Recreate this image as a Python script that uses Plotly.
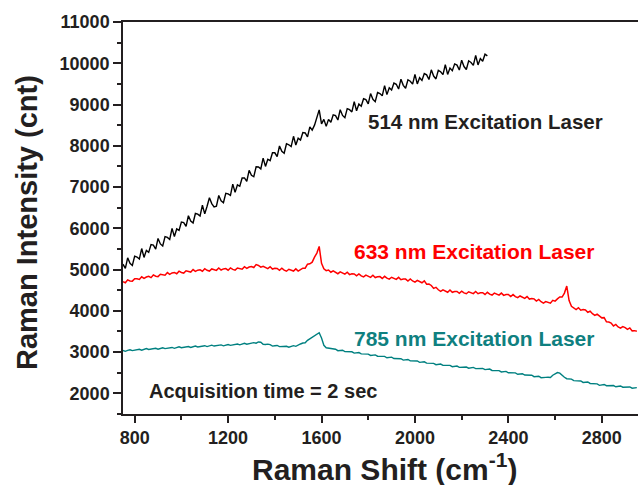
import plotly.graph_objects as go

# Raman shift sample positions (cm^-1), every 10 cm^-1
raman_shift = list(range(750, 2951, 10))

# 514 nm excitation (recorded 750 .. 2310 cm^-1)
int_514 = [
    5130, 5030, 5285, 5150, 5100, 5325, 5305, 5255, 5510, 5295,
    5465, 5418, 5606, 5594, 5497, 5755, 5621, 5572, 5798, 5779,
    5730, 6000, 5800, 5985, 5950, 6150, 6140, 6045, 6305, 6175,
    6130, 6360, 6345, 6300, 6560, 6350, 6535, 6740, 6600, 6520,
    6535, 6795, 6665, 6620, 6850, 6835, 6800, 7070, 6870, 7055,
    7020, 7220, 7220, 7135, 7405, 7285, 7250, 7490, 7485, 7440,
    7700, 7500, 7675, 7640, 7830, 7830, 7735, 7995, 7865, 7820,
    8050, 8025, 7980, 8230, 8020, 8185, 8140, 8320, 8310, 8215,
    8460, 8380, 8500, 8700, 8870, 8530, 8640, 8470, 8640, 8570,
    8750, 8730, 8625, 8875, 8735, 8680, 8900, 8875, 8820, 9070,
    8850, 9015, 8960, 9140, 9120, 9015, 9265, 9125, 9070, 9290,
    9265, 9210, 9460, 9240, 9405, 9350, 9520, 9490, 9375, 9615,
    9465, 9395, 9600, 9565, 9495, 9730, 9500, 9650, 9585, 9750,
    9720, 9605, 9840, 9690, 9620, 9830, 9795, 9725, 9965, 9730,
    9885, 9820, 9985, 9955, 9835, 10075, 9920, 9850, 10060, 10020,
    9950, 10190, 9960, 10115, 10050, 10220, 10180,
]

# 633 nm excitation
int_633 = [
    4705, 4680, 4750, 4725, 4720, 4780, 4775, 4760, 4825, 4785,
    4820, 4835, 4805, 4870, 4840, 4830, 4888, 4881, 4864, 4927,
    4885, 4918, 4931, 4899, 4962, 4930, 4915, 4970, 4960, 4940,
    5000, 4955, 4985, 4995, 4960, 5020, 4982, 4964, 5016, 5003,
    4980, 5037, 4989, 5016, 5023, 4985, 5042, 5004, 4986, 5038,
    5025, 5008, 5071, 5029, 5062, 5075, 5050, 5120, 5100, 5060,
    5080, 5057, 5024, 5071, 5013, 5030, 5029, 4983, 5032, 4986,
    4960, 5008, 4991, 4964, 5017, 4965, 5000, 5035, 5035, 5130,
    5140, 5180, 5300, 5400, 5560, 5150, 5020, 4975, 4990, 4935,
    4970, 4925, 4900, 4945, 4925, 4890, 4935, 4878, 4896, 4894,
    4847, 4895, 4848, 4821, 4864, 4842, 4810, 4861, 4807, 4828,
    4829, 4785, 4836, 4792, 4768, 4814, 4795, 4763, 4811, 4754,
    4772, 4770, 4723, 4771, 4724, 4697, 4740, 4715, 4680, 4725,
    4645, 4650, 4615, 4545, 4570, 4510, 4470, 4510, 4485, 4450,
    4505, 4450, 4470, 4470, 4425, 4478, 4436, 4414, 4462, 4445,
    4417, 4469, 4416, 4438, 4440, 4397, 4449, 4406, 4383, 4430,
    4410, 4380, 4430, 4375, 4395, 4395, 4347, 4394, 4346, 4318,
    4360, 4335, 4300, 4345, 4285, 4300, 4290, 4235, 4275, 4220,
    4185, 4225, 4205, 4185, 4255, 4235, 4290, 4335, 4335, 4430,
    4600, 4250, 4110, 4075, 4030, 4075, 4015, 4030, 4020, 3965,
    3990, 3930, 3890, 3920, 3875, 3830, 3835, 3735, 3730, 3705,
    3635, 3670, 3610, 3580, 3620, 3595, 3550, 3585, 3515, 3520,
    3505,
]

# 785 nm excitation
int_785 = [
    3040, 3019, 3043, 3057, 3036, 3045, 3066, 3068, 3047, 3071,
    3085, 3063, 3071, 3091, 3092, 3070, 3093, 3106, 3084, 3092,
    3112, 3113, 3091, 3114, 3127, 3105, 3113, 3133, 3134, 3112,
    3135, 3148, 3126, 3134, 3154, 3155, 3133, 3156, 3169, 3147,
    3155, 3174, 3174, 3151, 3173, 3185, 3164, 3173, 3194, 3196,
    3175, 3199, 3213, 3192, 3201, 3222, 3230, 3215, 3245, 3240,
    3190, 3185, 3192, 3180, 3145, 3155, 3161, 3132, 3133, 3146,
    3140, 3119, 3143, 3157, 3140, 3160, 3197, 3220, 3225, 3285,
    3325, 3365, 3410, 3440, 3470, 3340, 3165, 3105, 3095, 3075,
    3082, 3070, 3035, 3045, 3045, 3012, 3009, 3018, 3008, 2975,
    2987, 2989, 2956, 2953, 2962, 2952, 2919, 2931, 2933, 2900,
    2897, 2906, 2896, 2863, 2875, 2877, 2844, 2841, 2850, 2840,
    2807, 2819, 2821, 2788, 2785, 2794, 2784, 2751, 2763, 2765,
    2732, 2729, 2738, 2728, 2695, 2708, 2711, 2679, 2677, 2687,
    2678, 2646, 2659, 2662, 2630, 2631, 2644, 2638, 2609, 2625,
    2630, 2600, 2600, 2612, 2605, 2575, 2587, 2589, 2556, 2553,
    2562, 2552, 2519, 2531, 2533, 2500, 2497, 2506, 2496, 2463,
    2475, 2477, 2444, 2441, 2450, 2440, 2405, 2415, 2415, 2380,
    2375, 2387, 2390, 2385, 2440, 2480, 2505, 2490, 2430, 2390,
    2355, 2350, 2345, 2310, 2305, 2312, 2300, 2265, 2275, 2275,
    2240, 2235, 2242, 2230, 2195, 2210, 2215, 2185, 2185, 2197,
    2190, 2160, 2175, 2180, 2150, 2150, 2162, 2155, 2125, 2140,
    2140,
]

x_tick_vals = [800, 1200, 1600, 2000, 2400, 2800]
y_tick_vals = [2000, 3000, 4000, 5000, 6000, 7000, 8000, 9000, 10000, 11000]
y_tick_text = ["2000", "3000", "4000", "5000", "6000", "7000", "8000", "9000", "10000", "11000"]

labels = ["514 nm Excitation Laser", "633 nm Excitation Laser",
          "785 nm Excitation Laser", "Acquisition time = 2 sec"]
label_x = [2300, 2252, 2252, 1348]
label_y = [8600, 5450, 3320, 2060]
label_colors = ["#231f20", "#ff0000", "#0f8080", "#231f20"]
label_sizes = [20.5, 21, 21, 20]

DARK = "#231f20"
FONT = "Liberation Sans"

fig = go.Figure()
fig.add_trace(go.Scatter(x=raman_shift[:len(int_514)], y=int_514, mode="lines",
                         line=dict(color="#000000", width=1.4), showlegend=False))
fig.add_trace(go.Scatter(x=raman_shift, y=int_633, mode="lines",
                         line=dict(color="#ff0000", width=1.5), showlegend=False))
fig.add_trace(go.Scatter(x=raman_shift, y=int_785, mode="lines",
                         line=dict(color="#008080", width=1.4), showlegend=False))

for t, xx, yy, c, s in zip(labels, label_x, label_y, label_colors, label_sizes):
    fig.add_annotation(x=xx, y=yy, xref="x", yref="y", text=t, showarrow=False,
                       xanchor="center", yanchor="middle",
                       font=dict(family=FONT, size=s, color=c, weight="bold"))

# axis titles
fig.add_annotation(x=(27 - 123) / 515, y=(414 - 223) / 392, xref="paper", yref="paper",
                   text="Raman Intensity (cnt)", textangle=-90, showarrow=False,
                   xanchor="center", yanchor="middle",
                   font=dict(family=FONT, size=29, color=DARK, weight="bold"))
fig.add_annotation(x=(384 - 123) / 515, y=(414 - 467) / 392, xref="paper", yref="paper",
                   text="Raman Shift (cm<sup>-1</sup>)", showarrow=False,
                   xanchor="center", yanchor="middle",
                   font=dict(family=FONT, size=30, color=DARK, weight="bold"))

fig.update_layout(
    width=638, height=485,
    margin=dict(l=123, r=0, t=22, b=71),
    paper_bgcolor="white", plot_bgcolor="white",
    xaxis=dict(range=[750, 2955], tickvals=x_tick_vals, ticks="outside", ticklen=7,
               tickwidth=1.5, tickcolor=DARK, showline=True, linewidth=1.5, linecolor=DARK,
               mirror=True, showgrid=False, zeroline=False, automargin=False,
               minor=dict(ticks="outside", ticklen=4, tickwidth=1.5, tickcolor=DARK,
                          dtick=200, tick0=800, showgrid=False),
               tickfont=dict(family=FONT, size=18, color=DARK, weight="bold")),
    yaxis=dict(range=[1500, 11000], tickvals=y_tick_vals, ticktext=y_tick_text,
               ticks="outside", ticklen=8,
               tickwidth=1.5, tickcolor=DARK, showline=True, linewidth=1.5, linecolor=DARK,
               mirror=False, showgrid=False, zeroline=False, automargin=False,
               minor=dict(ticks="outside", ticklen=4, tickwidth=1.5, tickcolor=DARK,
                          dtick=500, tick0=0, showgrid=False),
               tickfont=dict(family=FONT, size=18, color=DARK, weight="bold")),
)

fig.write_html("out.html", post_script="document.body.style.margin='0px';",
               config={"displayModeBar": False})
